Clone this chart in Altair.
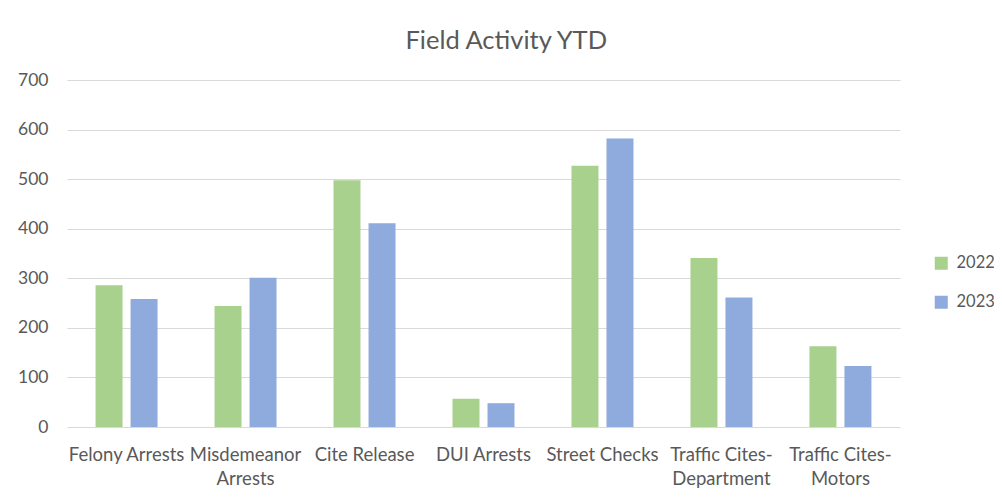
import json
import altair as alt
import pandas as pd

categories = [
    "Felony Arrests",
    "Misdemeanor Arrests",
    "Cite Release",
    "DUI Arrests",
    "Street Checks",
    "Traffic Cites-Department",
    "Traffic Cites-Motors",
]
values_2022 = [286, 244, 498, 57, 527, 341, 163]
values_2023 = [258, 301, 411, 48, 582, 261, 123]
years = ["2022", "2023"]
year_colors = ["#A9D18E", "#8FAADC"]
y_ticks = [0, 100, 200, 300, 400, 500, 600, 700]
label_lines = {
    "Misdemeanor Arrests": ["Misdemeanor", "Arrests"],
    "Traffic Cites-Department": ["Traffic Cites-", "Department"],
    "Traffic Cites-Motors": ["Traffic Cites-", "Motors"],
}

rows = []
for c, v in zip(categories, values_2022):
    rows.append({"Category": c, "Year": "2022", "Value": v})
for c, v in zip(categories, values_2023):
    rows.append({"Category": c, "Year": "2023", "Value": v})
df = pd.DataFrame(rows)

label_expr = "(" + json.dumps(label_lines) + ")[datum.label] || datum.label"

FONT = "Lato"
TXT = "#595959"

chart = (
    alt.Chart(df)
    .mark_bar()
    .encode(
        x=alt.X(
            "Category:N",
            sort=categories,
            title=None,
            scale=alt.Scale(paddingInner=0.479, paddingOuter=0.24),
            axis=alt.Axis(
                labelAngle=0,
                labelExpr=label_expr,
                labelPadding=18,
                labelLineHeight=24,
                labelBaseline="top",
                domain=False,
                ticks=False,
                tickSize=0,
                grid=False,
                labelFontSize=18.5,
                labelColor=TXT,
                labelFont=FONT,
            ),
        ),
        xOffset=alt.XOffset(
            "Year:N",
            sort=years,
            scale=alt.Scale(paddingInner=0.229, paddingOuter=0),
        ),
        y=alt.Y(
            "Value:Q",
            title=None,
            scale=alt.Scale(domain=[0, 700], nice=False),
            axis=alt.Axis(
                values=y_ticks,
                domain=False,
                ticks=False,
                tickSize=0,
                labelPadding=19,
                gridColor="#D9D9D9",
                gridWidth=1,
                labelFontSize=17.5,
                labelColor=TXT,
                labelFont=FONT,
            ),
        ),
        color=alt.Color(
            "Year:N",
            sort=years,
            scale=alt.Scale(domain=years, range=year_colors),
            legend=alt.Legend(
                title=None,
                orient="none",
                legendX=866,
                legendY=175,
                symbolType="square",
                symbolSize=169,
                symbolStrokeWidth=0,
                labelFontSize=16.5,
                labelColor=TXT,
                labelFont=FONT,
                labelOffset=7,
                rowPadding=22,
                padding=0,
            ),
        ),
    )
    .properties(
        width=833,
        height=347,
        background="#FFFFFF",
        title=alt.TitleParams(
            "Field Activity YTD",
            font=FONT,
            fontSize=25.5,
            fontWeight="normal",
            color=TXT,
            anchor="middle",
            frame="bounds",
            offset=17,
        ),
        autosize=alt.AutoSizeParams(type="none"),
        padding={"left": 59, "top": 72, "right": 94, "bottom": 62},
    )
    .configure_view(strokeWidth=0, stroke=None)
)

chart.save("out.html", embed_options={"renderer": "svg", "actions": False})
